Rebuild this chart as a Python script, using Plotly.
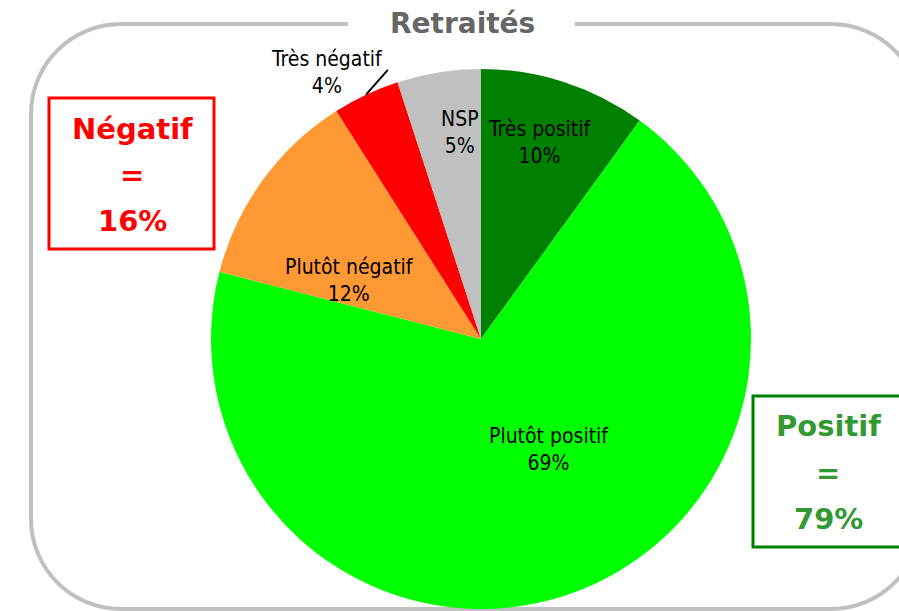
import math
import plotly.graph_objects as go

labels = ["Très positif", "Plutôt positif", "Plutôt négatif", "Très négatif", "NSP"]
values = [10, 69, 12, 4, 5]
colors = ["#008000", "#00FF00", "#FF9933", "#FF0000", "#C0C0C0"]

title = "Retraités"
neg_lines = ["Négatif", "=", "16%"]
pos_lines = ["Positif", "=", "79%"]

# label placement style (radius fraction, angular tweak in degrees) per slice
label_rf = [0.76, 0.48, 0.535, 1.14, 0.767]
label_dth = [-1.3, -11.7, -11.9, -4.9, 3.2]
leader = [False, False, False, True, False]

W, H = 899, 611
LABEL_FONT = "DejaVu Sans Condensed, DejaVu Sans, sans-serif"
BOLD_FONT = "DejaVu Sans, Verdana, sans-serif"

# pie geometry in pixels
cx, cy, R = 481, 339, 270

fig = go.Figure()
fig.add_trace(go.Pie(
    labels=labels, values=values, sort=False, direction="clockwise", rotation=0,
    marker=dict(colors=colors, line=dict(width=0)),
    textinfo="none", showlegend=False, hoverinfo="skip",
    domain=dict(x=[(cx - R) / W, (cx + R) / W], y=[1 - (cy + R) / H, 1 - (cy - R) / H]),
))

# invisible pixel axes for decorations
fig.update_xaxes(range=[0, W], visible=False, fixedrange=True)
fig.update_yaxes(range=[H, 0], visible=False, fixedrange=True)

# slice labels, placed from the slice angles
total = sum(values)
cum = 0
for lab, v, rf, dth, ld in zip(labels, values, label_rf, label_dth, leader):
    mid = (cum + v / 2) / total * 360
    a = math.radians(mid + dth)
    x = cx + rf * R * math.sin(a)
    y = cy - rf * R * math.cos(a)
    pct = round(100 * v / total)
    fig.add_annotation(x=x, y=y, xref="x", yref="y", text=f"{lab}<br>{pct}%", showarrow=False,
                       font=dict(family=LABEL_FONT, size=21, color="black"))
    if ld:
        am = math.radians(mid)
        ae = math.radians(mid + 6.1)
        fig.add_shape(type="line", xref="x", yref="y",
                      x0=cx + R * math.sin(am), y0=cy - R * math.cos(am),
                      x1=cx + 1.055 * R * math.sin(ae), y1=cy - 1.055 * R * math.cos(ae),
                      line=dict(color="black", width=2))
    cum += v

# rounded frame with a gap for the title
L, T, Rr, B, r = 31, 24, 921, 609, 90
k = 0.5523 * r
path = (f"M 575 {T} L {Rr - r} {T} "
        f"C {Rr - r + k} {T} {Rr} {T + r - k} {Rr} {T + r} "
        f"L {Rr} {B - r} C {Rr} {B - r + k} {Rr - r + k} {B} {Rr - r} {B} "
        f"L {L + r} {B} C {L + r - k} {B} {L} {B - r + k} {L} {B - r} "
        f"L {L} {T + r} C {L} {T + r - k} {L + r - k} {T} {L + r} {T} L 348 {T}")
fig.add_shape(type="path", path=path, xref="x", yref="y",
              line=dict(color="#C0C0C0", width=4), layer="below")

fig.add_annotation(x=462, y=23, xref="x", yref="y", text=f"<b>{title}</b>", showarrow=False,
                   font=dict(family=BOLD_FONT, size=28, color="#666666"))

# summary boxes
fig.add_shape(type="rect", x0=49, y0=98, x1=214, y1=249, xref="x", yref="y",
              line=dict(color="#FF0000", width=3), fillcolor="white")
fig.add_shape(type="rect", x0=753, y0=396, x1=910, y1=547, xref="x", yref="y",
              line=dict(color="#008000", width=3), fillcolor="white")
for i, (a, b) in enumerate(zip(neg_lines, pos_lines)):
    fig.add_annotation(x=132, y=129 + 46 * i, xref="x", yref="y", text=f"<b>{a}</b>",
                       showarrow=False, font=dict(family=BOLD_FONT, size=29, color="#FF0000"))
    fig.add_annotation(x=828, y=426 + 46.5 * i, xref="x", yref="y", text=f"<b>{b}</b>",
                       showarrow=False, font=dict(family=BOLD_FONT, size=29, color="#339933"))

fig.update_layout(width=W, height=H, margin=dict(l=0, r=0, t=0, b=0),
                  paper_bgcolor="white", plot_bgcolor="white")
fig.write_html("out.html", config={"displayModeBar": False},
               post_script="document.body.style.margin='0';")
